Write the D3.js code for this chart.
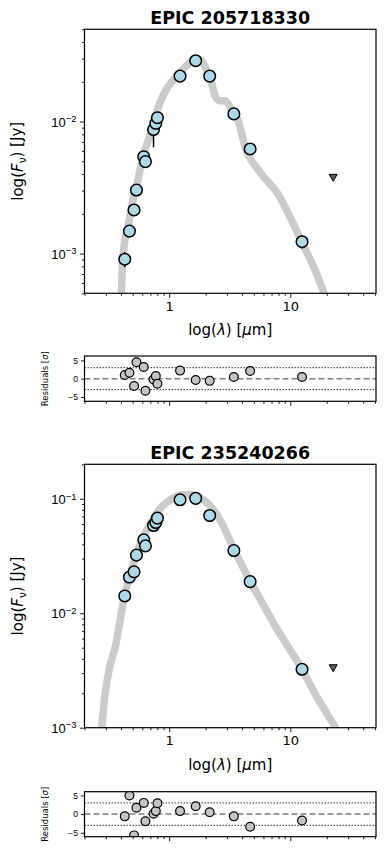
<!DOCTYPE html>
<html>
<head>
<meta charset="utf-8">
<script src="https://cdn.jsdelivr.net/npm/d3@7"></script>
<style>
  body { margin: 0; background: #fff; }
  svg { display: block; font-family: "DejaVu Sans", sans-serif; }
</style>
</head>
<body>
<svg id="fig" width="392" height="850"></svg>
<script>
// photometry wavelengths (micron), shared by both stars
const wave = [0.43, 0.47, 0.513, 0.537, 0.617, 0.637, 0.743, 0.776, 0.80, 1.23, 1.655, 2.16, 3.42, 4.66, 12.5];

// EPIC 205718330
const fluxA = [0.000906, 0.00148, 0.00214, 0.00303, 0.00542, 0.00497, 0.0087, 0.0097, 0.0107, 0.0221, 0.0289, 0.0221, 0.01143, 0.0062, 0.00123];
const errA = [0.00012, 0.00006, 0.00008, 0.0001, 0.0002, 0.0002, 0.0023, 0.0003, 0.0003, 0.0005, 0.0006, 0.0005, 0.0003, 0.0002, 0.00014];
const limitA = { wave: 22.6, flux: 0.00378 };
const residA = [1.0, 1.6, -2.0, 4.5, 3.2, -3.3, -0.2, 0.7, -1.4, 2.2, -0.35, -0.6, 0.45, 2.1, 0.45];
const modelWaveA = [0.398, 0.413, 0.430, 0.455, 0.482, 0.511, 0.551, 0.583, 0.629, 0.679, 0.719, 0.761, 0.806, 0.870, 0.957, 1.073, 1.227, 1.429, 1.664, 1.832, 2.014, 2.215, 2.39, 2.58, 2.89, 3.24, 3.71, 4.32, 5.13, 6.21, 7.80, 10.0, 12.8, 16.4, 19.1, 20.7];
const modelFluxA = [3.67e-4, 8.5e-4, 1.25e-3, 1.54e-3, 2.11e-3, 2.74e-3, 3.56e-3, 4.63e-3, 6.03e-3, 7.43e-3, 8.85e-3, 1.054e-2, 1.256e-2, 1.50e-2, 1.78e-2, 2.05e-2, 2.36e-2, 2.71e-2, 3.01e-2, 2.91e-2, 2.52e-2, 2.05e-2, 1.57e-2, 1.44e-2, 1.44e-2, 1.26e-2, 1.02e-2, 6.03e-3, 4.63e-3, 3.69e-3, 2.89e-3, 1.87e-3, 1.16e-3, 7.13e-4, 4.94e-4, 4.01e-4];

// EPIC 235240266
const fluxB = [0.01416, 0.0207, 0.023, 0.0322, 0.0438, 0.0388, 0.0584, 0.062, 0.0678, 0.098, 0.1007, 0.0714, 0.0353, 0.0189, 0.00324];
const errB = [0.0005, 0.0006, 0.0006, 0.0008, 0.001, 0.001, 0.0015, 0.0015, 0.0015, 0.002, 0.002, 0.0015, 0.0008, 0.0004, 0.0001];
const limitB = { wave: 22.6, flux: 0.00334 };
const residB = [-0.6, 5.0, -5.7, 1.7, 3.0, -1.9, 0.1, 0.8, 2.9, 0.8, 2.1, 0.5, -0.6, -3.4, -1.7];
const modelWaveB = [0.2666, 0.2769, 0.2934, 0.3227, 0.3617, 0.3904, 0.4213, 0.4636, 0.5196, 0.5829, 0.666, 0.7612, 0.8867, 1.053, 1.274, 1.542, 1.866, 2.259, 2.733, 3.436, 4.663, 5.861, 7.511, 9.625, 12.33, 16.42, 20.64, 23.6, 24.98];
const modelFluxB = [7.79e-4, 1.012e-3, 1.852e-3, 3.39e-3, 5.28e-3, 8.23e-3, 1.307e-2, 1.956e-2, 2.926e-2, 4.12e-2, 5.57e-2, 7.10e-2, 8.69e-2, 0.100, 0.1084, 0.1084, 0.100, 8.34e-2, 6.04e-2, 3.58e-2, 1.917e-2, 1.231e-2, 7.74e-3, 5.07e-3, 3.32e-3, 1.890e-3, 1.263e-3, 9.92e-4, 8.44e-4];

const titles = ["EPIC 205718330", "EPIC 235240266"];
const xMajor = [1, 10];
const xMinor = [0.2, 0.3, 0.4, 0.5, 0.6, 0.7, 0.8, 0.9, 2, 3, 4, 5, 6, 7, 8, 9, 20, 30, 40, 50];
const residTicks = [-5, 0, 5];

const svg = d3.select("#fig");
const left = 84.5, right = 376;

const x = d3.scaleLog().domain([0.2, 51]).range([left, right]);

let clipId = 0;
function clipRect(top, bottom) {
  const id = "clip" + (clipId++);
  svg.append("clipPath").attr("id", id)
    .append("rect").attr("x", left).attr("y", top)
    .attr("width", right - left).attr("height", bottom - top);
  return "url(#" + id + ")";
}

function xAxis(g, bottom, labels) {
  g.append("g").attr("transform", `translate(0,${bottom})`)
    .call(d3.axisBottom(x).tickValues(xMinor).tickSize(2.5).tickFormat(""))
    .call(a => a.select(".domain").remove());
  const maj = g.append("g").attr("transform", `translate(0,${bottom})`)
    .call(d3.axisBottom(x).tickValues(xMajor).tickSize(4.5).tickPadding(4)
      .tickFormat(labels ? d3.format("d") : ""))
    .call(a => a.select(".domain").remove());
  maj.selectAll("text").attr("font-size", 13).attr("fill", "#000")
    .attr("font-family", "DejaVu Sans");
  g.selectAll(".tick line").attr("stroke", "#000").attr("stroke-width", 0.9);
}

function frame(g, top, bottom) {
  g.append("rect").attr("x", left).attr("y", top)
    .attr("width", right - left).attr("height", bottom - top)
    .attr("fill", "none").attr("stroke", "#000").attr("stroke-width", 1.2);
}

function mainPanel(cfg) {
  const g = svg.append("g");
  const y = d3.scaleLog().domain(cfg.ydom).range([cfg.bottom, cfg.top]);
  const clip = clipRect(cfg.top, cfg.bottom);

  // title
  g.append("text").attr("x", (left + right) / 2).attr("y", cfg.top - 5)
    .attr("text-anchor", "middle").attr("font-size", 17.5).attr("font-weight", "bold")
    .text(cfg.title);

  // model SED
  const line = d3.line().x(d => x(d[0])).y(d => y(d[1])).curve(d3.curveMonotoneX);
  g.append("path").attr("clip-path", clip)
    .attr("d", line(d3.zip(cfg.mWave, cfg.mFlux)))
    .attr("fill", "none").attr("stroke", "#cbcbcb").attr("stroke-width", 7.5)
    .attr("stroke-linejoin", "round");

  const pts = wave.map((w, i) => ({ w, f: cfg.flux[i], e: cfg.err[i] }));
  const pg = g.append("g").attr("clip-path", clip);
  pg.selectAll("line.err").data(pts).join("line")
    .attr("x1", d => x(d.w)).attr("x2", d => x(d.w))
    .attr("y1", d => y(d.f - d.e)).attr("y2", d => y(d.f + d.e))
    .attr("stroke", "#000").attr("stroke-width", 1.5);
  pg.selectAll("circle").data(pts).join("circle")
    .attr("cx", d => x(d.w)).attr("cy", d => y(d.f)).attr("r", 5.8)
    .attr("fill", "#add8e6").attr("stroke", "#000").attr("stroke-width", 1.5);

  // upper limit
  const lx = x(cfg.limit.wave), ly = y(cfg.limit.flux);
  pg.append("path")
    .attr("d", `M${lx - 4},${ly - 3} L${lx + 4},${ly - 3} L${lx},${ly + 4} Z`)
    .attr("fill", "#5a5a5a").attr("stroke", "#000").attr("stroke-width", 1);

  frame(g, cfg.top, cfg.bottom);
  xAxis(g, cfg.bottom, true);

  // y ticks
  const [lo, hi] = cfg.ydom;
  const minor = [];
  for (let p = Math.floor(Math.log10(lo)); p <= Math.ceil(Math.log10(hi)); p++) {
    for (let k = 2; k <= 9; k++) {
      const v = k * Math.pow(10, p);
      if (v >= lo * 0.999 && v <= hi * 1.001) minor.push(v);
    }
  }
  g.append("g").attr("transform", `translate(${left},0)`)
    .call(d3.axisLeft(y).tickValues(minor).tickSize(2.5).tickFormat(""))
    .call(a => a.select(".domain").remove());
  const ya = g.append("g").attr("transform", `translate(${left},0)`)
    .call(d3.axisLeft(y).tickValues(cfg.yMajor).tickSize(4.5).tickFormat(""))
    .call(a => a.select(".domain").remove());
  ya.selectAll(".tick").each(function(d) {
    const t = d3.select(this).append("text").attr("x", -8).attr("dy", "0.35em")
      .attr("text-anchor", "end").attr("fill", "#000").attr("font-size", 13);
    t.append("tspan").text("10");
    t.append("tspan").attr("dy", "-0.45em").attr("font-size", 9.5)
      .text("\u2212" + Math.round(-Math.log10(d)));
  });
  g.selectAll(".tick line").attr("stroke", "#000").attr("stroke-width", 0.9);

  // labels
  const xl = g.append("text").attr("x", (left + right) / 2).attr("y", cfg.bottom + 42)
    .attr("text-anchor", "middle").attr("font-size", 15);
  xl.append("tspan").text("log(");
  xl.append("tspan").attr("font-style", "italic").text("\u03bb");
  xl.append("tspan").text(") [");
  xl.append("tspan").attr("font-style", "italic").text("\u03bc");
  xl.append("tspan").text("m]");

  const yl = g.append("text")
    .attr("transform", `translate(23,${(cfg.top + cfg.bottom) / 2}) rotate(-90)`)
    .attr("text-anchor", "middle").attr("font-size", 15);
  yl.append("tspan").text("log(");
  yl.append("tspan").attr("font-style", "italic").text("F");
  yl.append("tspan").attr("font-size", 10.5).attr("dy", "0.25em").text("\u03bd");
  yl.append("tspan").attr("dy", "-0.25em").text(") [Jy]");
}

function residPanel(cfg) {
  const g = svg.append("g");
  const y = d3.scaleLinear().domain(cfg.ydom).range([cfg.bottom, cfg.top]);
  const clip = clipRect(cfg.top, cfg.bottom);
  const rg = g.append("g").attr("clip-path", clip);

  rg.append("line").attr("x1", left).attr("x2", right)
    .attr("y1", y(0)).attr("y2", y(0))
    .attr("stroke", "#7f7f7f").attr("stroke-width", 1.5).attr("stroke-dasharray", "6,3");
  [3, -3].forEach(v => {
    rg.append("line").attr("x1", left).attr("x2", right)
      .attr("y1", y(v)).attr("y2", y(v))
      .attr("stroke", "#000").attr("stroke-width", 0.8).attr("stroke-dasharray", "1.5,1.5");
  });

  rg.selectAll("circle").data(wave.map((w, i) => [w, cfg.resid[i]])).join("circle")
    .attr("cx", d => x(d[0])).attr("cy", d => y(d[1])).attr("r", 4.4)
    .attr("fill", "#c4c4c4").attr("stroke", "#000").attr("stroke-width", 1.2);

  frame(g, cfg.top, cfg.bottom);
  xAxis(g, cfg.bottom, false);

  const ya = g.append("g").attr("transform", `translate(${left},0)`)
    .call(d3.axisLeft(y).tickValues(residTicks).tickSize(3.5).tickPadding(3)
      .tickFormat(d => d < 0 ? "\u2212" + (-d) : d))
    .call(a => a.select(".domain").remove());
  ya.selectAll("text").attr("font-size", 8.5).attr("fill", "#000");
  ya.selectAll(".tick line").attr("stroke", "#000").attr("stroke-width", 0.9);

  const yl = g.append("text")
    .attr("transform", `translate(48,${(cfg.top + cfg.bottom) / 2}) rotate(-90)`)
    .attr("text-anchor", "middle").attr("font-size", 8.5);
  yl.append("tspan").text("Residuals [");
  yl.append("tspan").attr("font-style", "italic").text("\u03c3");
  yl.append("tspan").text("]");
}

mainPanel({ title: titles[0], top: 29.3, bottom: 293.3, ydom: [5e-4, 5e-2], yMajor: [1e-3, 1e-2],
  flux: fluxA, err: errA, limit: limitA, mWave: modelWaveA, mFlux: modelFluxA });
residPanel({ top: 356, bottom: 401.3, ydom: [-6.2, 6.2], resid: residA });

mainPanel({ title: titles[1], top: 464.3, bottom: 727.7, ydom: [1e-3, 0.2], yMajor: [1e-3, 1e-2, 1e-1],
  flux: fluxB, err: errB, limit: limitB, mWave: modelWaveB, mFlux: modelFluxB });
residPanel({ top: 791.7, bottom: 836.7, ydom: [-6.05, 6.0], resid: residB });
</script>
</body>
</html>
